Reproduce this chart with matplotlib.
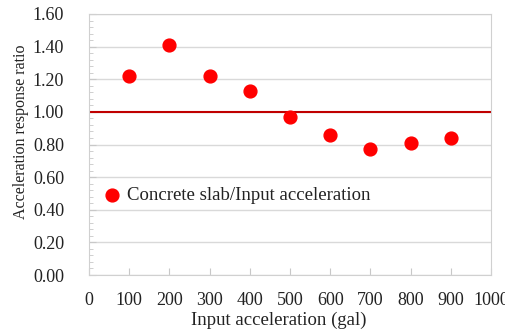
import matplotlib.pyplot as plt
from matplotlib.ticker import MultipleLocator

plt.rcParams['font.family'] = ['Liberation Serif', 'DejaVu Serif']

input_acc = [100, 200, 300, 400, 500, 600, 700, 800, 900]
ratio = [1.22, 1.41, 1.22, 1.13, 0.97, 0.86, 0.77, 0.81, 0.84]
x_ticks = [0, 100, 200, 300, 400, 500, 600, 700, 800, 900, 1000]

fig = plt.figure(figsize=(5.05, 3.32), dpi=100)
ax = fig.add_axes([89 / 505, 57 / 332, 402 / 505, 261 / 332])

ax.axhline(1.0, color='#C00000', lw=1.5, zorder=2)
ax.scatter(input_acc, ratio, s=85, color='#FF0000', zorder=3,
           label='Concrete slab/Input acceleration')

ax.set_xlim(0, 1000)
ax.set_ylim(0, 1.6)
ax.set_xticks(x_ticks)
ax.yaxis.set_major_locator(MultipleLocator(0.2))
ax.yaxis.set_minor_locator(MultipleLocator(0.04))
ax.yaxis.set_major_formatter(lambda v, p: f'{v:.2f}')
ax.grid(axis='y', color='#d9d9d9', lw=1, zorder=0)

for s in ax.spines.values():
    s.set_color('#d0d0d0')
ax.tick_params(axis='both', which='both', direction='in', color='#c8c8c8',
               labelsize=13, labelcolor='#222222')
ax.tick_params(axis='y', which='major', length=5, pad=18)
ax.tick_params(axis='y', which='minor', length=3)
ax.tick_params(axis='x', which='major', length=5, pad=12)

ax.set_xlabel('Input acceleration (gal)', fontsize=13.5, color='#222222')
ax.set_ylabel('Acceleration response ratio', fontsize=11.5, color='#222222')
ax.xaxis.set_label_coords(0.471, -0.142)
ax.yaxis.set_label_coords(-0.15, 0.55)

ax.legend(loc='center left', bbox_to_anchor=(0.015, 0.305), frameon=False,
          fontsize=13.5, handlelength=1.0, handletextpad=0.3, borderaxespad=0,
          labelcolor='#222222')

fig.savefig('out.png', dpi=100)
